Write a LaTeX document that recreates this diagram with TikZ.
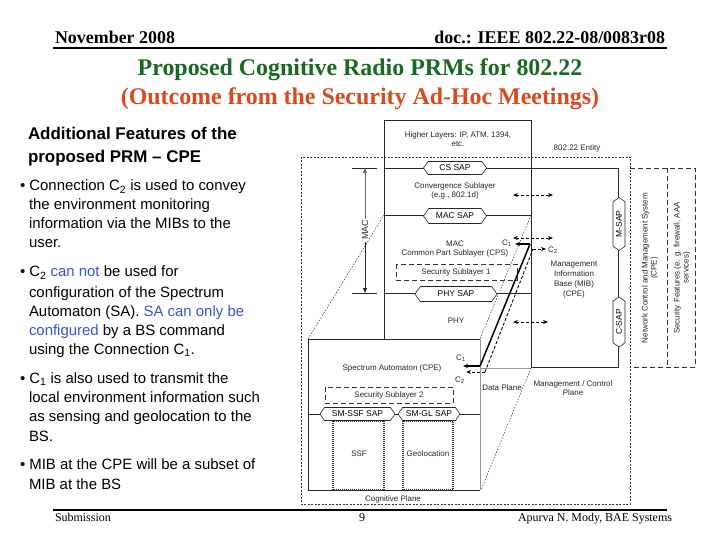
\documentclass[tikz,border=0pt]{standalone}
\usepackage{fontspec}
\setmainfont{Liberation Serif}
\setsansfont{Liberation Sans}
\usetikzlibrary{shapes.symbols,arrows.meta}
\definecolor{tgreen}{RGB}{25,105,35}
\definecolor{tred}{RGB}{215,75,30}
\definecolor{tblue}{RGB}{55,85,205}
\definecolor{lgray}{RGB}{150,150,150}
\newcommand{\dfont}{\sffamily\fontsize{8}{9}\selectfont}
\newcommand{\bufont}{\sffamily\fontsize{15}{19}\selectfont}
\begin{document}
\begin{tikzpicture}[x=1bp,y=-1bp,
  every node/.style={inner sep=0pt, outer sep=0pt},
  hdr/.style={font=\bfseries\fontsize{18}{20}\selectfont},
  ttl/.style={font=\bfseries\fontsize{24}{28}\selectfont, anchor=base},
  ftr/.style={font=\fontsize{12}{14}\selectfont, anchor=base},
  bl/.style={anchor=base west, font=\bufont},
  dl/.style={font=\dfont, align=center, text=black!85},
  ln/.style={line width=0.8bp, draw=black!85},
  gl/.style={line width=0.7bp, draw=lgray},
  dashbox/.style={line width=0.8bp, draw=black!80, dash pattern=on 5bp off 3bp},
  dotbox/.style={line width=1.3bp, draw=black!80, dash pattern=on 1bp off 1bp},
  persp/.style={line width=0.5bp, draw=black!80, dash pattern=on 1.5bp off 1.5bp},
  sap/.style={draw=black!85, line width=0.6bp, fill=white, signal, signal to=east and west,
    signal pointer angle=110, font=\sffamily\fontsize{8.5}{10}\selectfont, minimum height=13bp, inner xsep=2bp},
  tip/.style={-{Stealth[length=5bp,width=4bp]}},
  dar/.style={line width=0.8bp, dash pattern=on 3bp off 2bp, {Stealth[length=5bp,width=4bp]}-{Stealth[length=5bp,width=4bp]}},
]
\useasboundingbox (0,0) rectangle (720,540);
\fill[white] (0,0) rectangle (720,540);

% header
\node[hdr, anchor=base west] (date) at (55,44) {November 2008};
\node[hdr, anchor=base east] (doc) at (665,44) {doc.: IEEE 802.22-08/0083r08};
\coordinate (hl0) at (53,48); \coordinate (hl1) at (667,48);
\draw[line width=2bp] (hl0) -- (hl1);

% title
\node[ttl, text=tgreen] (t1) at (360,76) {Proposed Cognitive Radio PRMs for 802.22};
\node[ttl, text=tred] (t2) at (360,105) {(Outcome from the Security Ad-Hoc Meetings)};

% left text
\node[anchor=base west, font=\sffamily\bfseries\fontsize{17}{20}\selectfont] (h1) at (28,140) {Additional Features of the};
\node[anchor=base west, font=\sffamily\bfseries\fontsize{17}{20}\selectfont] (h2) at (28,163) {proposed PRM – CPE};

\node[bl] (b1a) at (20,191) {• Connection C\textsubscript{2} is used to convey};
\node[bl] (b1b) at (29,210) {the environment monitoring};
\node[bl] (b1c) at (29,229) {information via the MIBs to the};
\node[bl] (b1d) at (29,248) {user.};

\node[bl] (b2a) at (20,277) {• C\textsubscript{2} \textcolor{tblue}{can not} be used for};
\node[bl] (b2b) at (29,297) {configuration of the Spectrum};
\node[bl] (b2c) at (29,316) {Automaton (SA). \textcolor{tblue}{SA can only be}};
\node[bl] (b2d) at (29,335) {\textcolor{tblue}{configured} by a BS command};
\node[bl] (b2e) at (29,354) {using the Connection C\textsubscript{1}.};

\node[bl] (b3a) at (20,383) {• C\textsubscript{1} is also used to transmit the};
\node[bl] (b3b) at (29,402) {local environment information such};
\node[bl] (b3c) at (29,421) {as sensing and geolocation to the};
\node[bl] (b3d) at (29,441) {BS.};

\node[bl] (b4a) at (20,469) {• MIB at the CPE will be a subset of};
\node[bl] (b4b) at (29,489) {MIB at the BS};

% footer
\coordinate (fl0) at (53,510); \coordinate (fl1) at (667,510);
\draw[line width=2bp] (fl0) -- (fl1);
\node[ftr, anchor=base west] (sub) at (55,521) {Submission};
\node[ftr] (pg) at (362,521) {9};
\node[ftr, anchor=base east] (auth) at (672,521) {Apurva N. Mody, BAE Systems};

% ---------- diagram ----------
% outer 802.22 entity
\draw[line width=0.6bp, draw=black!80, dash pattern=on 2bp off 1.5bp] (301,157) rectangle (630,504);
% right dashed boxes
\draw[dashbox] (630,168) -- (695,168) -- (695,367) -- (630,367);
\draw[dashbox] (667,168) -- (667,367);

% data plane / management plane
\draw[ln] (384,339) -- (384,120) -- (531,120) -- (531,367);
\draw[ln] (384,168) -- (618,168) -- (618,367) -- (531,367);
\draw[ln] (384,215) -- (531,215);
\draw[ln] (384,293) -- (531,293);
\draw[gl] (480,368) -- (531,368);

% spectrum automaton box
\draw[ln] (480,339) -- (308,339) -- (308,490) -- (480,490);
\draw[gl] (480,339) -- (480,490);
\draw[ln] (308,414) -- (480,414);

% perspective lines
\draw[persp] (384,215) -- (308,339);
\draw[persp] (531,215) -- (480,339);
\draw[persp] (531,368) -- (481,490);

% sublayer boxes
\draw[dashbox] (396,264) rectangle (517,280);
\draw[dashbox] (325,387) rectangle (453,403);
\draw[dotbox] (333,421) rectangle (384,490);
\draw[dotbox] (403,421) rectangle (453,490);

% MAC bracket
\coordinate (mact) at (365,168); \coordinate (macb) at (365,293);
\draw[ln] (352,168) -- (377,168);
\draw[ln] (352,293) -- (377,293);
\node[dl, rotate=90, font=\sffamily\fontsize{9}{10}\selectfont] (maclbl) at (365,230) {MAC};
\draw[gl, draw=black!60, -{Triangle[length=5bp,width=4bp]}] (365,219) -- (mact);
\draw[ln, -{Triangle[length=5bp,width=4bp]}] (365,242) -- (macb);

% SAPs
\node[sap, minimum width=63bp] (cssap) at (455,168) {CS SAP};
\node[sap, minimum width=63bp, minimum height=15bp] (macsap) at (455,216) {MAC SAP};
\node[sap, minimum width=82bp, minimum height=15bp] (physap) at (456,294) {PHY SAP};
\node[sap, minimum width=75bp] (ssfsap) at (357.5,414) {SM-SSF SAP};
\node[sap, minimum width=62bp] (glsap) at (429,414) {SM-GL SAP};
\node[sap, rotate=90, minimum width=53bp, minimum height=12bp] (msap) at (619,224) {M-SAP};
\node[sap, rotate=90, minimum width=50bp, minimum height=12bp] (csap) at (619,322) {C-SAP};

% dashed double arrows
\draw[dar] (513,195) -- (553,195);
\draw[dar] (513,238) -- (553,238);
\draw[dar] (513,322) -- (548,322);

% C1 / C2
\coordinate (c1top) at (530,244); \coordinate (c1bot) at (480,366);
\coordinate (c1tl) at (515,244); \coordinate (c1bl) at (463,366);
\draw[line width=1.5bp] (c1bot) -- (c1top);
\draw[line width=1.2bp, tip] (c1top) -- (c1tl);
\draw[line width=1.2bp, tip] (c1bot) -- (c1bl);
\coordinate (c2top) at (533,249); \coordinate (c2bot) at (485,372);
\coordinate (c2tr) at (546,249); \coordinate (c2bl) at (466,372);
\draw[line width=0.9bp, dash pattern=on 3bp off 2bp] (c2bot) -- (c2top);
\draw[line width=0.9bp, dash pattern=on 3bp off 2bp, tip] (c2top) -- (c2tr);
\draw[line width=0.9bp, dash pattern=on 3bp off 2bp, tip] (c2bot) -- (c2bl);
\node[dl] (c1a) at (507,243) {C\textsubscript{1}};
\node[dl] (c2a) at (553,250) {C\textsubscript{2}};
\node[dl] (c1b) at (461,358) {C\textsubscript{1}};
\node[dl] (c2b) at (460,380) {C\textsubscript{2}};

% texts
\node[dl] (hlay) at (458,139.5) {Higher Layers: IP, ATM, 1394,\\etc.};
\node[dl] (ent) at (577,148) {802.22 Entity};
\node[dl] (cs) at (455,190.5) {Convergence Sublayer\\(e.g., 802.1d)};
\node[dl] (mac) at (455,249.5) {MAC\\Common Part Sublayer (CPS)};
\node[dl] (ss1) at (456,272) {Security Sublayer 1};
\node[dl] (phy) at (456,321) {PHY};
\node[dl, font=\sffamily\fontsize{8}{10}\selectfont] (mib) at (574,280) {Management\\Information\\Base (MIB)\\(CPE)};
\node[dl, rotate=90] (ncms) at (650,268) {Network Control and Management System\\(CPE)};
\node[dl, rotate=90] (secf) at (682,268) {Security Features (e. g. firewall, AAA\\services)};
\node[dl] (sa) at (392,368) {Spectrum Automaton (CPE)};
\node[dl] (ss2) at (389,395) {Security Sublayer 2};
\node[dl] (ssf) at (359,454) {SSF};
\node[dl] (geo) at (428,454) {Geolocation};
\node[dl] (cog) at (393,499) {Cognitive Plane};
\node[dl] (dp) at (502,388) {Data Plane};
\node[dl] (mcp) at (573,388) {Management / Control\\Plane};
\end{tikzpicture}
\end{document}
